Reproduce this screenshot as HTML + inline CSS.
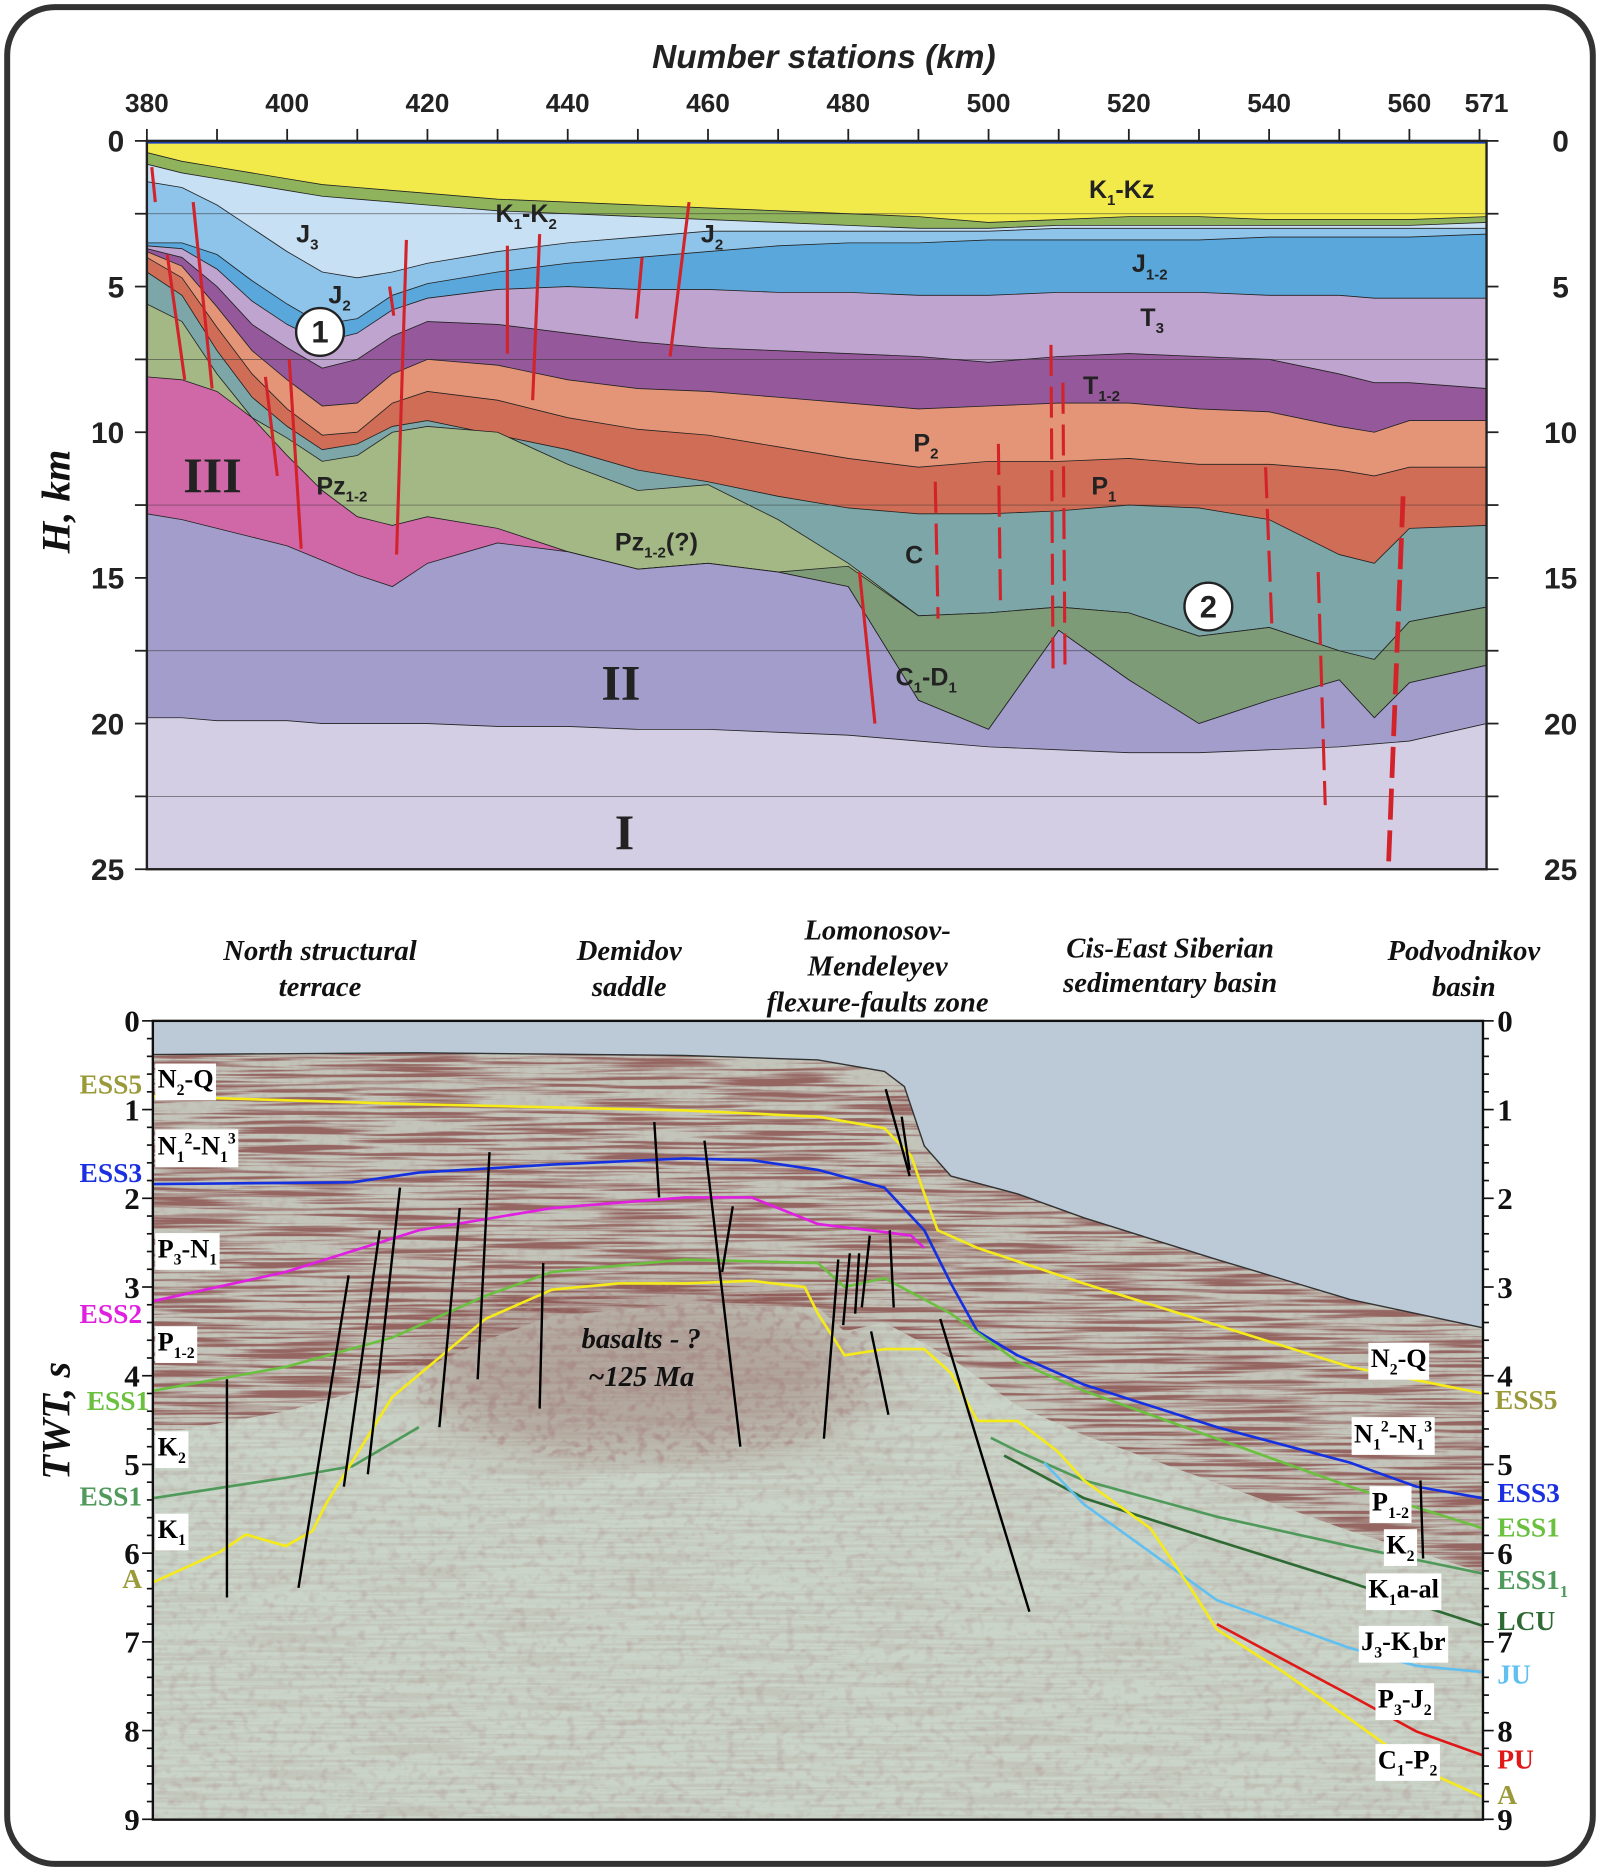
<!DOCTYPE html>
<html><head><meta charset="utf-8"><style>
html,body{margin:0;padding:0;background:#fff;}
svg{display:block;}
</style></head><body>
<svg id="fig" width="1600" height="1871" viewBox="0 0 1340 1567" xmlns="http://www.w3.org/2000/svg">
<defs>
 <clipPath id="topclip"><rect x="123" y="118" width="1122" height="610"/></clipPath>
 <clipPath id="botclip"><rect x="128" y="855" width="1114" height="669"/></clipPath>
 <clipPath id="seisclip"><path id="seisclippath" d=""/></clipPath>
 <clipPath id="bandclip"><path id="bandclippath" d=""/></clipPath>
 <clipPath id="basclip"><ellipse cx="540" cy="1150" rx="200" ry="75"/></clipPath>
 <filter id="stripes" x="0" y="0" width="100%" height="100%">
  <feTurbulence type="fractalNoise" baseFrequency="0.01 0.35" numOctaves="2" seed="4"/>
  <feColorMatrix type="matrix" values="0 0 0 0 0.30  0 0 0 0 0.13  0 0 0 0 0.12  5 0 0 0 -2.2"/>
 </filter>
 <filter id="speck" x="0" y="0" width="100%" height="100%">
  <feTurbulence type="fractalNoise" baseFrequency="0.12 0.15" numOctaves="2" seed="9"/>
  <feColorMatrix type="matrix" values="0 0 0 0 0.4  0 0 0 0 0.25  0 0 0 0 0.25  3 0 0 0 -1.5"/>
 </filter>
 <filter id="blur"><feGaussianBlur stdDeviation="25"/></filter>
</defs>
<rect x="6" y="6" width="1328" height="1555" rx="40" fill="#fff" stroke="#333" stroke-width="5"/>

<g id="topsec"></g>
<g id="botsec"></g>
<g id="labels"></g>
</svg>
<script>
// ---------- TOP CHART DATA ----------
const stations=[380,385,390,395,400,405,410,415,420,430,440,450,460,470,480,490,500,510,520,530,540,550,555,560,571];
const topK1Kz=[0,0,0,0,0,0,0,0,0,0,0,0,0,0,0,0,0,0,0,0,0,0,0,0,0];
const topK1K2=[0.4,0.7,0.9,1.1,1.3,1.5,1.6,1.7,1.8,2.0,2.1,2.2,2.3,2.4,2.5,2.6,2.8,2.7,2.6,2.6,2.7,2.7,2.7,2.7,2.6];
const topJ3=[0.8,1.1,1.3,1.5,1.7,1.9,2.0,2.1,2.2,2.4,2.5,2.6,2.7,2.8,2.9,3.0,3.0,2.9,2.9,2.9,2.9,2.9,2.9,2.9,2.8];
const topJ2=[1.4,1.6,2.2,3.0,3.8,4.5,4.7,4.5,4.2,3.8,3.5,3.3,3.1,3.1,3.1,3.1,3.1,3.0,3.0,3.0,3.0,3.0,3.0,3.0,3.0];
const topJ12=[3.5,3.5,3.9,4.8,5.6,6.3,6.1,5.3,4.9,4.5,4.2,4.0,3.8,3.6,3.5,3.5,3.4,3.4,3.4,3.4,3.3,3.3,3.3,3.3,3.2];
const topT3=[3.6,3.7,4.4,5.5,6.3,6.9,6.6,5.8,5.4,5.1,5.0,5.1,5.1,5.2,5.2,5.3,5.3,5.2,5.2,5.2,5.3,5.3,5.4,5.4,5.4];
const topT12=[3.7,4.0,5.0,6.3,7.1,7.8,7.5,6.7,6.2,6.3,6.6,6.9,7.1,7.2,7.3,7.4,7.6,7.4,7.3,7.4,7.5,8.0,8.3,8.3,8.5];
const topP2=[3.8,4.3,5.7,7.2,8.2,9.1,9.0,8.0,7.5,7.7,8.2,8.5,8.6,8.8,9.0,9.2,9.1,9.0,9.0,9.2,9.3,9.8,10.0,9.6,9.6];
const topP1=[4.0,4.7,6.4,8.0,9.2,10.1,10.0,9.0,8.6,8.9,9.5,9.9,10.1,10.5,10.9,11.2,11.0,11.0,10.9,11.1,11.1,11.3,11.5,11.2,11.2];
const topC=[4.5,5.3,7.2,8.8,9.8,10.6,10.4,9.8,9.6,10.1,10.6,11.3,11.7,12.2,12.6,12.8,12.8,12.7,12.5,12.6,13.0,14.2,14.5,13.3,13.2];
const topPz=[5.6,6.2,8.0,9.5,10.2,11.0,10.8,10.0,9.8,10.0,11.1,12.0,11.8,13.0,14.5,16.3,16.2,16.0,16.2,17.0,16.7,17.5,17.8,16.5,16.0];
const topC1D1=[12.8,13.0,13.3,13.6,13.9,14.4,14.9,15.3,14.5,13.8,14.1,14.7,14.5,14.8,14.6,16.3,16.2,16.0,16.2,17.0,16.7,17.5,17.8,16.5,16.0];
const topIII=[8.1,8.2,8.6,9.5,10.8,12.0,12.9,13.2,12.9,13.3,14.1,14.7,14.5,14.8,15.3,19.2,20.2,16.8,18.5,20.0,19.2,18.5,19.8,18.6,18.0];
const topII=[12.8,13.0,13.3,13.6,13.9,14.4,14.9,15.3,14.5,13.8,14.1,14.7,14.5,14.8,15.3,19.2,20.2,16.8,18.5,20.0,19.2,18.5,19.8,18.6,18.0];
const topI=[19.8,19.8,19.9,19.9,19.9,20.0,20.0,20.0,20.0,20.1,20.1,20.2,20.2,20.3,20.4,20.6,20.8,20.9,21.0,21.0,20.9,20.8,20.7,20.6,20.0];
const xTicks=[380,400,420,440,460,480,500,520,540,560,571];
const depthTicks=[0,5,10,15,20,25];
const faultS1=[380.7,382.9,386.6,396.9,400.3,414.6,417.0,431.4,436.0,450.6,457.3,481.6,492.4,501.4,508.9,510.6,539.5,547.0,559.1];
const faultD1=[0.9,3.9,2.1,8.1,7.5,5.0,3.4,3.6,3.2,4.0,2.1,14.8,11.7,10.4,7.0,8.3,11.2,14.8,12.2];
const faultS2=[381.2,385.4,389.3,398.6,402.0,415.2,415.6,431.4,435.0,449.8,454.6,483.8,492.8,501.7,509.2,510.9,540.4,548.0,557.0];
const faultD2=[2.1,8.2,8.5,11.5,14.0,6.0,14.2,7.3,8.9,6.1,7.4,20.0,16.4,15.9,18.3,18.1,16.7,22.8,25.0];
const faultDash=[0,0,0,0,0,0,0,0,0,0,0,0,1,1,1,1,1,1,1];

// ---------- BOTTOM CHART DATA ----------
const seafloorU=[0,20,40,50,55,56.5,58,60,65,70,80,90,100];
const seafloorT=[0.38,0.36,0.39,0.44,0.57,0.74,1.41,1.75,1.95,2.22,2.69,3.14,3.46];
const ess5U=[0,20,40,50,55,57,58,59,62,66,70,80,90,100];
const ess5T=[0.85,0.94,1.01,1.08,1.21,1.52,1.95,2.36,2.56,2.76,2.96,3.43,3.90,4.20];
const ess3U=[0,15,20,30,40,45,50,55,58,60,62,65,70,80,90,95,100];
const ess3T=[1.84,1.82,1.71,1.62,1.55,1.57,1.68,1.88,2.36,2.96,3.50,3.77,4.10,4.58,4.98,5.25,5.38];
const ess2U=[0,10,20,30,40,45,50,55,57,58];
const ess2T=[3.16,2.83,2.36,2.11,1.99,1.99,2.29,2.38,2.42,2.56];
const ess1U=[0,10,18,25,30,40,50,52,55,60,65,70,80,90,100];
const ess1T=[4.17,3.90,3.57,3.10,2.83,2.69,2.73,3.00,2.90,3.30,3.84,4.17,4.71,5.25,5.72];
const ess11LU=[0,10,15,20];
const ess11LT=[5.38,5.15,5.02,4.58];
const ess11RU=[63,65,70,80,90,100];
const ess11RT=[4.70,4.85,5.18,5.59,5.92,6.23];
const lcuU=[64,70,80,90,100];
const lcuT=[4.90,5.38,5.86,6.33,6.82];
const aU=[0,5,7,10,12,13,18,25,30,35,40,45,49,50,52,55,58,60,62,65,68,70,75,78,80,85,90,95,100];
const aT=[6.33,5.99,5.79,5.92,5.75,5.45,4.24,3.36,3.03,2.96,2.96,2.93,3.00,3.30,3.77,3.70,3.70,3.97,4.51,4.51,4.85,5.18,5.72,6.39,6.86,7.34,7.87,8.41,8.75];
const juU=[67,70,75,80,85,90,95,100];
const juT=[4.98,5.45,5.99,6.53,6.80,7.07,7.27,7.34];
const puU=[80,85,90,95,100];
const puT=[6.80,7.20,7.60,8.01,8.28];
const bfU1=[5.57,10.95,14.36,16.16,21.54,24.42,29.08,37.7,41.47,42.8,50.45,51.9,52.8,53.3,54.0,55.4,55.1,56.3,59.2,95.3];
const bfT1=[4.04,6.39,5.25,5.11,4.58,4.04,4.37,1.14,1.35,2.83,4.71,3.43,3.30,3.23,3.50,2.36,0.77,1.08,3.36,5.18];
const bfU2=[5.57,14.72,17.06,18.58,23.07,25.31,29.35,38.06,44.17,43.6,51.53,52.4,53.1,53.9,55.3,55.7,56.9,56.9,65.9,95.5];
const bfT2=[6.50,2.87,2.36,1.88,2.11,1.48,2.73,1.99,4.80,2.09,2.69,2.62,2.62,2.42,4.44,3.23,1.75,1.68,6.66,6.06];
const twtTicks=[0,1,2,3,4,5,6,7,8,9];

// ---------- SCALES ----------
const X1=s=>123+(s-380)*(1245-123)/191;
const Y1=d=>118+d*24.4;
const X2=u=>128+u*11.14;
const Y2=t=>855+t*74.3;
const NS='http://www.w3.org/2000/svg';
function mk(tag,attrs,parent){const e=document.createElementNS(NS,tag);for(const k in attrs)e.setAttribute(k,attrs[k]);parent.appendChild(e);return e;}

const topG=document.getElementById('topsec');
const gLayers=mk('g',{'clip-path':'url(#topclip)'},topG);
const layers=[[topK1Kz,'#f2ea4b','layer-k1-kz'],[topK1K2,'#8fb35c','layer-k1-k2'],[topJ3,'#c8e0f3','layer-j3'],[topJ2,'#8ec4ea','layer-j2'],[topJ12,'#5aa7dc','layer-j1-2'],[topT3,'#bea4cf','layer-t3'],[topT12,'#94589b','layer-t1-2'],[topP2,'#e59577','layer-p2'],[topP1,'#d06d56','layer-p1'],[topC,'#7ca6a7','layer-c'],[topPz,'#a4b885','layer-pz1-2'],[topC1D1,'#7e9b77','layer-c1-d1'],[topIII,'#d068a8','layer-iii'],[topII,'#a39dcc','layer-ii'],[topI,'#d4cee5','layer-i']];
layers.forEach(([arr,col,nm])=>{
 let d='M'+X1(stations[0])+','+Y1(arr[0]);
 for(let i=1;i<stations.length;i++)d+=' L'+X1(stations[i])+','+Y1(arr[i]);
 d+=' L'+X1(571)+','+Y1(26)+' L'+X1(380)+','+Y1(26)+'Z';
 const p=mk('path',{d:d,fill:col,stroke:'#222','stroke-width':0.7},gLayers);
 
 
});
[2.5,7.5,12.5,17.5,22.5].forEach(v=>{
 const l=mk('line',{x1:123,x2:1245,y1:Y1(v),y2:Y1(v),stroke:'#333','stroke-width':0.6,opacity:0.7},gLayers);
 
 
});
for(let i=0;i<faultS1.length;i++){
 const l=mk('line',{x1:X1(faultS1[i]),y1:Y1(faultD1[i]),x2:X1(faultS2[i]),y2:Y1(faultD2[i]),stroke:'#d2232a','stroke-width':i==18?4:2.6},gLayers);
 if(faultDash[i])l.setAttribute('stroke-dasharray','26 9');
 
 
}
mk('line',{x1:123,x2:1245,y1:119,y2:119,stroke:'#1a3fc0','stroke-width':2.5},topG);
const frame1=mk('rect',{x:123,y:118,width:1122,height:610,fill:'none',stroke:'#222','stroke-width':2},topG);


for(let s=380;s<=570;s+=10){mk('line',{x1:X1(s),x2:X1(s),y1:108,y2:118,stroke:'#222','stroke-width':1.5},topG);}
xTicks.forEach(s=>{
 const t=mk('text',{x:X1(s),y:94,'text-anchor':'middle','font-family':'Liberation Sans, sans-serif','font-weight':'bold','font-size':22,fill:'#222'},topG);
 t.textContent=s;
 
 
});
for(let d=0;d<=25;d+=2.5){mk('line',{x1:113,x2:123,y1:Y1(d),y2:Y1(d),stroke:'#222','stroke-width':1.5},topG);mk('line',{x1:1245,x2:1255,y1:Y1(d),y2:Y1(d),stroke:'#222','stroke-width':1.5},topG);}
depthTicks.forEach(d=>{
 const t=mk('text',{x:104,y:Y1(d)+9,'text-anchor':'end','font-family':'Liberation Sans, sans-serif','font-weight':'bold','font-size':25,fill:'#222'},topG);
 t.textContent=d;
 
 
 const r=mk('text',{x:1307,y:Y1(d)+9,'text-anchor':'middle','font-family':'Liberation Sans, sans-serif','font-weight':'bold','font-size':25,fill:'#222'},topG);
 r.textContent=d;
 
 
});

// ---------- BOTTOM ----------
const botG=document.getElementById('botsec');
const sky=mk('rect',{x:128,y:855,width:1114,height:669,fill:'#bccad7'},botG);


let sd='M'+X2(0)+','+Y2(seafloorT[0]);
for(let i=1;i<seafloorU.length;i++)sd+=' L'+X2(seafloorU[i])+','+Y2(seafloorT[i]);
const seisD=sd+' L'+X2(100)+','+Y2(9)+' L'+X2(0)+','+Y2(9)+'Z';
document.getElementById('seisclippath').setAttribute('d',seisD);
let bd=sd;
for(let i=ess1U.length-1;i>=0;i--)bd+=' L'+X2(ess1U[i])+','+Y2(ess1T[i]+0.5);
bd+='Z';
document.getElementById('bandclippath').setAttribute('d',bd);
const gS=mk('g',{'clip-path':'url(#seisclip)'},botG);
mk('rect',{x:128,y:855,width:1114,height:669,fill:'#cad4c8'},gS);
mk('rect',{x:128,y:855,width:1114,height:669,filter:'url(#speck)',opacity:0.3},gS);
mk('rect',{x:128,y:855,width:1114,height:669,filter:'url(#stripes)',opacity:0.12},gS);
const gB=mk('g',{'clip-path':'url(#bandclip)'},gS);
mk('rect',{x:128,y:855,width:1114,height:669,fill:'#b8aca6',opacity:0.4},gB);
mk('rect',{x:128,y:855,width:1114,height:669,filter:'url(#stripes)',opacity:1},gB);
mk('ellipse',{cx:540,cy:1150,rx:190,ry:70,fill:'#7a3c3a',opacity:0.3,filter:'url(#blur)'},gS);
const gBa=mk('g',{'clip-path':'url(#basclip)'},gS);
mk('rect',{x:128,y:855,width:1114,height:669,filter:'url(#speck)',opacity:0.6},gBa);
const sfl=mk('path',{d:sd,fill:'none',stroke:'#333','stroke-width':1.2},botG);


const gH=mk('g',{'clip-path':'url(#botclip)'},botG);
function hline(U,T,col,nm){
 let d='M'+X2(U[0])+','+Y2(T[0]);
 for(let i=1;i<U.length;i++)d+=' L'+X2(U[i])+','+Y2(T[i]);
 const p=mk('path',{d:d,fill:'none',stroke:col,'stroke-width':2.2,'stroke-linejoin':'round'},gH);
 
 
}
hline(ess5U,ess5T,'#f5ea1a','horizon-ess5');
hline(ess3U,ess3T,'#1530e0','horizon-ess3');
hline(ess2U,ess2T,'#e020e0','horizon-ess2');
hline(ess1U,ess1T,'#6cc040','horizon-ess1');
hline(ess11LU,ess11LT,'#4f9a5a','horizon-ess1-1-left');
hline(ess11RU,ess11RT,'#4f9a5a','horizon-ess1-1-right');
hline(lcuU,lcuT,'#2f6a35','horizon-lcu');
hline(juU,juT,'#62c0f0','horizon-ju');
hline(puU,puT,'#e01818','horizon-pu');
hline(aU,aT,'#f5ea1a','horizon-a');
for(let i=0;i<bfU1.length;i++){
 const l=mk('line',{x1:X2(bfU1[i]),y1:Y2(bfT1[i]),x2:X2(bfU2[i]),y2:Y2(bfT2[i]),stroke:'#000','stroke-width':2},gH);
 
 
}
const frame2=mk('rect',{x:128,y:855,width:1114,height:669,fill:'none',stroke:'#111','stroke-width':2},botG);


for(let k=0;k<=45;k++){const t=k*0.2;const maj=(k%5===0);mk('line',{x1:128-(maj?9:5),x2:128,y1:Y2(t),y2:Y2(t),stroke:'#111','stroke-width':1.4},botG);mk('line',{x1:1242,x2:1242+(maj?9:5),y1:Y2(t),y2:Y2(t),stroke:'#111','stroke-width':1.4},botG);}
twtTicks.forEach(t=>{
 const a=mk('text',{x:117,y:Y2(t)+9,'text-anchor':'end','font-family':'Liberation Serif, serif','font-weight':'bold','font-size':26,fill:'#111'},botG);
 a.textContent=t;
 
 
 const b=mk('text',{x:1254,y:Y2(t)+9,'font-family':'Liberation Serif, serif','font-weight':'bold','font-size':26,fill:'#111'},botG);
 b.textContent=t;
 
 
});

// ---------- LABELS ----------
const LG=document.getElementById('labels');
function lab(x,y,str,opt,name){
 const t=mk('text',{x:x,y:y,'font-family':opt.ff||'Liberation Sans, sans-serif','font-weight':'bold','font-size':opt.fs||20,fill:opt.fill||'#222','text-anchor':opt.anchor||'start','font-style':opt.it?'italic':'normal'},LG);
 
 
 const fs=opt.fs||20;const re=/([_^])\{([^}]*)\}|([^_^]+)/g;let m;let shift=0;
 while((m=re.exec(str))){
  const ts=document.createElementNS(NS,'tspan');
  if(m[3]){ts.textContent=m[3];ts.setAttribute('dy',-shift);shift=0;}
  else{const sh=m[1]=='_'?fs*0.28:-fs*0.42;ts.textContent=m[2];ts.setAttribute('font-size',fs*0.6);ts.setAttribute('dy',sh-shift);shift=sh;}
  t.appendChild(ts);
 }
 return t;
}
function boxlab(x,y,str,fs,name){
 const t=lab(x,y,str,{ff:'Liberation Serif, serif',fs:fs,fill:'#000'},name);
 let bb;
 try{bb=t.getBBox();}catch(e){bb={x:x,y:y-fs,width:fs*2,height:fs*1.2};}
 const r=mk('rect',{x:bb.x-2,y:bb.y-1,width:bb.width+4,height:bb.height+2,fill:'#fff'},LG);
 LG.insertBefore(r,t);
 
 
}
lab(690,57,'Number stations (km)',{fs:28,it:true,anchor:'middle',fill:'#222'},'x-axis-title');
const ht=lab(0,0,'H, km',{ff:'Liberation Serif, serif',fs:34,it:true,anchor:'middle',fill:'#111'},'y-axis-title');
ht.setAttribute('transform','translate(58,420) rotate(-90)');
const tt=lab(0,0,'TWT, s',{ff:'Liberation Serif, serif',fs:34,it:true,anchor:'middle',fill:'#111'},'twt-axis-title');
tt.setAttribute('transform','translate(58,1190) rotate(-90)');
const F={fs:21};
lab(912,166,'K_{1}-Kz',F,'label-k1-kz');
lab(415,186,'K_{1}-K_{2}',F,'label-k1-k2');
lab(248,203,'J_{3}',F,'label-j3');
lab(587,203,'J_{2}',F,'label-j2-right');
lab(948,228,'J_{1-2}',F,'label-j1-2');
lab(275,254,'J_{2}',F,'label-j2-left');
lab(955,273,'T_{3}',F,'label-t3');
lab(907,330,'T_{1-2}',F,'label-t1-2');
lab(765,378,'P_{2}',F,'label-p2');
lab(914,414,'P_{1}',F,'label-p1');
lab(265,414,'Pz_{1-2}',F,'label-pz1-2');
lab(515,461,'Pz_{1-2}(?)',F,'label-pz1-2-q');
lab(758,472,'C',F,'label-c');
lab(750,574,'C_{1}-D_{1}',F,'label-c1-d1');
const R={ff:'Liberation Serif, serif',fs:42,fill:'#222',anchor:'middle'};
lab(178,412,'III',R,'label-basement-iii');
lab(520,586,'II',R,'label-basement-ii');
lab(523,711,'I',R,'label-basement-i');
[[268,278,'1'],[1012,508,'2']].forEach(([x,y,s])=>{
 const c=mk('circle',{cx:x,cy:y,r:20,fill:'#fff',stroke:'#222','stroke-width':2},LG);
 
 
 lab(x,y+9,s,{fs:26,anchor:'middle'},'marker-'+s+'-text');
});
const RT={ff:'Liberation Serif, serif',fs:24,it:true,anchor:'middle',fill:'#111'};
lab(268,804,'North structural',RT,'region-north-terrace');
lab(268,834,'terrace',RT,'region-north-terrace-2');
lab(527,804,'Demidov',RT,'region-demidov');
lab(527,834,'saddle',RT,'region-demidov-2');
lab(735,787,'Lomonosov-',RT,'region-lomonosov');
lab(735,817,'Mendeleyev',RT,'region-lomonosov-2');
lab(735,847,'flexure-faults zone',RT,'region-lomonosov-3');
lab(980,802,'Cis-East Siberian',RT,'region-cis-east-siberian');
lab(980,831,'sedimentary basin',RT,'region-cis-east-siberian-2');
lab(1226,804,'Podvodnikov',RT,'region-podvodnikov');
lab(1226,834,'basin',RT,'region-podvodnikov-2');
lab(537,1129,'basalts - ?',RT,'basalts-note');
lab(537,1161,'~125 Ma',RT,'basalts-age');
const HL={ff:'Liberation Serif, serif',fs:23,anchor:'end'};
lab(119,916,'ESS5',Object.assign({},HL,{fill:'#9a9a3a'}),'left-ess5');
lab(119,990,'ESS3',Object.assign({},HL,{fill:'#1a30e0'}),'left-ess3');
lab(119,1108,'ESS2',Object.assign({},HL,{fill:'#e020e0'}),'left-ess2');
lab(125,1181,'ESS1',Object.assign({},HL,{fill:'#6cc040'}),'left-ess1');
lab(119,1261,'ESS1',Object.assign({},HL,{fill:'#4f9a5a'}),'left-ess1-1');
lab(119,1330,'A',Object.assign({},HL,{fill:'#9a9a3a'}),'left-a');
const HR={ff:'Liberation Serif, serif',fs:23};
lab(1252,1180,'ESS5',Object.assign({},HR,{fill:'#9a9a3a'}),'right-ess5');
lab(1254,1258,'ESS3',Object.assign({},HR,{fill:'#1a30e0'}),'right-ess3');
lab(1254,1287,'ESS1',Object.assign({},HR,{fill:'#6cc040'}),'right-ess1');
lab(1254,1331,'ESS1_{1}',Object.assign({},HR,{fill:'#4f9a5a'}),'right-ess1-1');
lab(1254,1365,'LCU',Object.assign({},HR,{fill:'#2f6a35'}),'right-lcu');
lab(1254,1410,'JU',Object.assign({},HR,{fill:'#62c0f0'}),'right-ju');
lab(1254,1481,'PU',Object.assign({},HR,{fill:'#e01818'}),'right-pu');
lab(1254,1511,'A',Object.assign({},HR,{fill:'#9a9a3a'}),'right-a');
boxlab(132,911,'N_{2}-Q',22,'unit-n2-q-left');
boxlab(132,967,'N_{1}^{2}-N_{1}^{3}',22,'unit-n1-left');
boxlab(132,1053,'P_{3}-N_{1}',22,'unit-p3-n1-left');
boxlab(132,1131,'P_{1-2}',22,'unit-p1-2-left');
boxlab(132,1219,'K_{2}',22,'unit-k2-left');
boxlab(132,1288,'K_{1}',22,'unit-k1-left');
boxlab(1148,1145,'N_{2}-Q',22,'unit-n2-q-right');
boxlab(1134,1208,'N_{1}^{2}-N_{1}^{3}',22,'unit-n1-right');
boxlab(1149,1265,'P_{1-2}',22,'unit-p1-2-right');
boxlab(1161,1301,'K_{2}',22,'unit-k2-right');
boxlab(1146,1338,'K_{1}a-al',22,'unit-k1a-al-right');
boxlab(1140,1382,'J_{3}-K_{1}br',22,'unit-j3-k1br-right');
boxlab(1154,1430,'P_{3}-J_{2}',22,'unit-p3-j2-right');
boxlab(1154,1481,'C_{1}-P_{2}',22,'unit-c1-p2-right');
</script>
</body></html>
